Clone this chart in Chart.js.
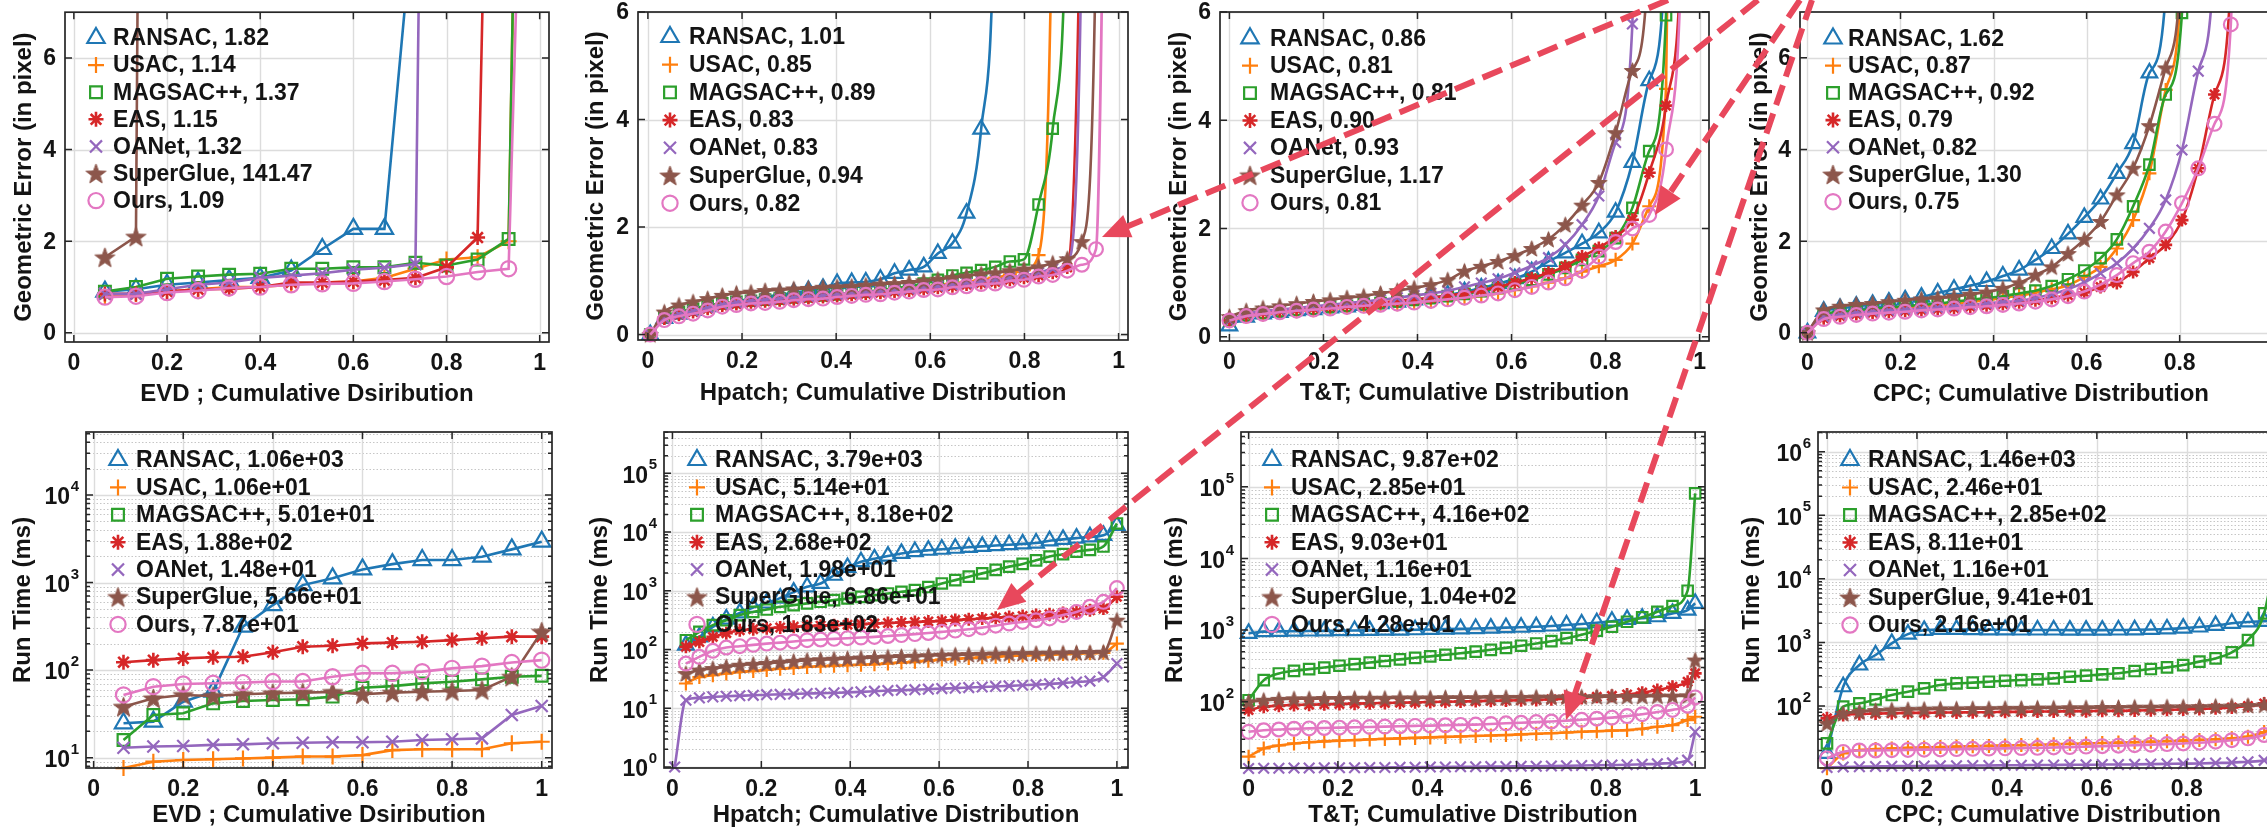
<!DOCTYPE html>
<html>
<head>
<meta charset="utf-8">
<title>Geometric error and run time – cumulative distributions</title>
<script src="https://cdn.jsdelivr.net/npm/chart.js@4.4.1/dist/chart.umd.min.js"></script>
<style>
  html, body { margin:0; padding:0; background:#ffffff; }
  body { width:2267px; height:831px; overflow:hidden; }
  #fig { position:relative; width:2267px; height:831px; overflow:hidden; background:#ffffff; }
  #fig canvas { position:absolute; }
</style>
</head>
<body>
<div id="fig"></div>
<script>
// ======================= DATA =======================
const methods = ['RANSAC', 'USAC', 'MAGSAC++', 'EAS', 'OANet', 'SuperGlue', 'Ours'];
const xTickValues = [0, 0.2, 0.4, 0.6, 0.8, 1];
const xTickLabels = ['0', '0.2', '0.4', '0.6', '0.8', '1'];
const errTickValues = [0, 2, 4, 6];
const errTickLabels = ['0', '2', '4', '6'];

// ---- EVD : geometric error ----
const evdErrX = [0.0667, 0.1333, 0.2, 0.2667, 0.3333, 0.4, 0.4667, 0.5333, 0.6, 0.6667, 0.7333, 0.8, 0.8667, 0.9333, 1.0];
const evdErrRANSAC = [0.9, 0.95, 1.05, 1.1, 1.15, 1.2, 1.36, 1.83, 2.27, 2.27, 9.6, 20, 40, 60, 80];
const evdErrUSAC = [0.8, 0.85, 0.9, 0.95, 1.0, 1.0, 1.05, 1.1, 1.12, 1.2, 1.4, 1.6, 1.65, 2.0, 40];
const evdErrMAGSAC = [0.9, 1.0, 1.18, 1.23, 1.27, 1.29, 1.4, 1.4, 1.43, 1.43, 1.53, 1.47, 1.6, 2.05, 40];
const evdErrEAS = [0.85, 0.85, 0.9, 0.95, 0.96, 1.0, 1.1, 1.1, 1.12, 1.15, 1.2, 1.43, 2.08, 34, 60];
const evdErrOANet = [0.85, 0.85, 0.95, 1.05, 1.1, 1.2, 1.25, 1.3, 1.38, 1.42, 1.5, 56, 80, 90, 100];
const evdErrSuperGlue = [1.65, 2.1, 100, 120, 130, 140, 140, 140, 140, 140, 140, 140, 140, 140, 140];
const evdErrOurs = [0.78, 0.8, 0.88, 0.92, 0.98, 1.0, 1.05, 1.07, 1.08, 1.12, 1.17, 1.23, 1.33, 1.4, 25.2];
const evdErrLegend = ['1.82', '1.14', '1.37', '1.15', '1.32', '141.47', '1.09'];

// ---- Hpatch : geometric error ----
const hpErrX = [0.005, 0.035, 0.066, 0.096, 0.127, 0.158, 0.188, 0.219, 0.249, 0.28, 0.31, 0.341, 0.372, 0.402, 0.433, 0.463, 0.494, 0.524, 0.555, 0.586, 0.616, 0.647, 0.677, 0.708, 0.738, 0.769, 0.799, 0.83, 0.86, 0.891, 0.922, 0.952, 0.983];
const hpErrRANSAC = [0, 0.3, 0.38, 0.45, 0.52, 0.57, 0.62, 0.66, 0.7, 0.74, 0.78, 0.82, 0.86, 0.95, 0.97, 0.98, 1.03, 1.14, 1.2, 1.26, 1.51, 1.7, 2.26, 3.82, 8.9, 40, 60, 80, 90, 100, 100, 100, 100];
const hpErrUSAC = [0, 0.32, 0.4, 0.46, 0.52, 0.57, 0.6, 0.62, 0.64, 0.66, 0.68, 0.7, 0.72, 0.74, 0.76, 0.78, 0.8, 0.83, 0.86, 0.89, 0.92, 0.95, 0.98, 1.02, 1.06, 1.12, 1.2, 1.48, 8.6, 40, 60, 80, 90];
const hpErrMAGSAC = [0, 0.33, 0.42, 0.48, 0.54, 0.58, 0.61, 0.63, 0.65, 0.67, 0.69, 0.71, 0.73, 0.75, 0.78, 0.8, 0.83, 0.86, 0.9, 0.95, 1.02, 1.1, 1.15, 1.2, 1.26, 1.36, 1.4, 2.42, 3.83, 9.0, 40, 60, 80];
const hpErrEAS = [0, 0.3, 0.37, 0.42, 0.48, 0.54, 0.57, 0.6, 0.62, 0.64, 0.66, 0.68, 0.7, 0.72, 0.74, 0.76, 0.78, 0.8, 0.82, 0.85, 0.87, 0.9, 0.93, 0.96, 0.98, 1.02, 1.06, 1.1, 1.15, 1.25, 10, 40, 60];
const hpErrOANet = [0, 0.3, 0.38, 0.44, 0.5, 0.56, 0.6, 0.63, 0.65, 0.67, 0.69, 0.71, 0.73, 0.75, 0.77, 0.79, 0.81, 0.83, 0.85, 0.88, 0.9, 0.93, 0.96, 0.99, 1.02, 1.06, 1.1, 1.15, 1.22, 1.35, 7.6, 40, 60];
const hpErrSuperGlue = [0, 0.42, 0.55, 0.61, 0.67, 0.73, 0.77, 0.79, 0.82, 0.83, 0.85, 0.86, 0.88, 0.89, 0.9, 0.92, 0.94, 0.95, 0.97, 1.0, 1.03, 1.06, 1.09, 1.13, 1.15, 1.19, 1.22, 1.26, 1.33, 1.41, 1.73, 7.3, 40];
const hpErrOurs = [0, 0.27, 0.34, 0.39, 0.45, 0.52, 0.55, 0.58, 0.59, 0.61, 0.64, 0.66, 0.67, 0.7, 0.72, 0.74, 0.75, 0.78, 0.8, 0.83, 0.84, 0.88, 0.9, 0.94, 0.95, 1.0, 1.02, 1.08, 1.11, 1.19, 1.3, 1.59, 18.7];
const hpErrLegend = ['1.01', '0.85', '0.89', '0.83', '0.83', '0.94', '0.82'];

// ---- T&T : geometric error ----
const ttErrX = [0, 0.0357, 0.0714, 0.1071, 0.1429, 0.1786, 0.2143, 0.25, 0.2857, 0.3214, 0.3571, 0.3929, 0.4286, 0.4643, 0.5, 0.5357, 0.5714, 0.6071, 0.6429, 0.6786, 0.7143, 0.75, 0.7857, 0.8214, 0.8571, 0.8929, 0.9286, 0.9643, 1.0];
const ttErrRANSAC = [0.2, 0.36, 0.42, 0.45, 0.48, 0.5, 0.53, 0.55, 0.58, 0.61, 0.64, 0.68, 0.72, 0.77, 0.83, 0.9, 0.98, 1.07, 1.2, 1.39, 1.55, 1.72, 1.92, 2.3, 3.22, 4.73, 7.4, 40, 60];
const ttErrUSAC = [0.3, 0.37, 0.41, 0.44, 0.47, 0.49, 0.51, 0.54, 0.56, 0.58, 0.6, 0.62, 0.65, 0.68, 0.71, 0.75, 0.8, 0.86, 0.93, 1.0, 1.08, 1.2, 1.3, 1.42, 1.72, 2.41, 4.58, 30, 60];
const ttErrMAGSAC = [0.3, 0.4, 0.44, 0.47, 0.5, 0.52, 0.55, 0.57, 0.6, 0.62, 0.65, 0.68, 0.71, 0.75, 0.79, 0.84, 0.9, 0.97, 1.05, 1.15, 1.27, 1.42, 1.58, 1.82, 2.38, 3.43, 5.94, 40, 60];
const ttErrEAS = [0.3, 0.4, 0.45, 0.48, 0.51, 0.53, 0.56, 0.58, 0.61, 0.63, 0.66, 0.69, 0.72, 0.76, 0.8, 0.86, 0.92, 1.0, 1.08, 1.18, 1.3, 1.48, 1.64, 1.85, 2.16, 3.03, 4.27, 8.1, 30];
const ttErrOANet = [0.3, 0.42, 0.47, 0.5, 0.53, 0.56, 0.59, 0.62, 0.65, 0.68, 0.72, 0.76, 0.8, 0.85, 0.92, 0.99, 1.07, 1.18, 1.31, 1.46, 1.7, 2.07, 2.6, 3.59, 5.78, 30, 60, 80, 90];
const ttErrSuperGlue = [0.37, 0.48, 0.53, 0.57, 0.61, 0.65, 0.68, 0.72, 0.75, 0.8, 0.85, 0.9, 0.96, 1.05, 1.21, 1.3, 1.39, 1.5, 1.63, 1.8, 2.07, 2.43, 2.85, 3.77, 4.92, 7.3, 40, 60, 80];
const ttErrOurs = [0.3, 0.38, 0.42, 0.45, 0.48, 0.5, 0.52, 0.55, 0.57, 0.59, 0.61, 0.63, 0.66, 0.69, 0.72, 0.76, 0.8, 0.86, 0.92, 1.0, 1.08, 1.22, 1.48, 1.75, 2.0, 2.25, 3.46, 8.0, 30];
const ttErrLegend = ['0.86', '0.81', '0.81', '0.90', '0.93', '1.17', '0.81'];

// ---- CPC : geometric error ----
const cpcErrX = [0, 0.035, 0.07, 0.105, 0.14, 0.175, 0.21, 0.245, 0.28, 0.315, 0.35, 0.385, 0.42, 0.455, 0.49, 0.525, 0.56, 0.595, 0.63, 0.665, 0.7, 0.735, 0.77, 0.805, 0.84, 0.875, 0.91, 0.945, 0.98];
const cpcErrRANSAC = [0, 0.47, 0.53, 0.58, 0.62, 0.67, 0.72, 0.78, 0.87, 0.95, 1.03, 1.12, 1.24, 1.37, 1.59, 1.84, 2.16, 2.52, 2.92, 3.48, 4.13, 5.67, 7.4, 30, 60, 80, 90, 100, 100];
const cpcErrUSAC = [0, 0.36, 0.41, 0.45, 0.48, 0.51, 0.54, 0.57, 0.6, 0.63, 0.67, 0.71, 0.76, 0.81, 0.88, 0.95, 1.04, 1.22, 1.44, 1.84, 2.46, 3.48, 5.3, 8, 30, 60, 80, 90, 100];
const cpcErrMAGSAC = [0, 0.4, 0.45, 0.48, 0.52, 0.55, 0.58, 0.61, 0.64, 0.68, 0.72, 0.76, 0.8, 0.86, 0.92, 1.02, 1.17, 1.36, 1.63, 2.04, 2.76, 3.67, 5.2, 6.98, 30, 60, 80, 90, 100];
const cpcErrEAS = [0, 0.32, 0.37, 0.41, 0.44, 0.46, 0.48, 0.5, 0.52, 0.54, 0.57, 0.6, 0.63, 0.67, 0.71, 0.76, 0.82, 0.88, 1.0, 1.09, 1.33, 1.63, 1.92, 2.46, 3.59, 5.2, 7.7, 30, 60];
const cpcErrOANet = [0, 0.35, 0.4, 0.44, 0.47, 0.49, 0.51, 0.53, 0.55, 0.58, 0.61, 0.64, 0.67, 0.7, 0.76, 0.84, 0.95, 1.1, 1.3, 1.52, 1.84, 2.28, 2.9, 3.99, 5.71, 8.4, 30, 60, 80];
const cpcErrSuperGlue = [0, 0.5, 0.58, 0.62, 0.64, 0.68, 0.71, 0.74, 0.76, 0.79, 0.84, 0.89, 0.97, 1.09, 1.26, 1.44, 1.73, 2.04, 2.43, 3.01, 3.59, 4.52, 5.78, 8.4, 30, 60, 80, 90, 100];
const cpcErrOurs = [0, 0.3, 0.35, 0.39, 0.42, 0.44, 0.46, 0.49, 0.51, 0.53, 0.56, 0.58, 0.61, 0.64, 0.68, 0.73, 0.8, 0.9, 1.05, 1.26, 1.52, 1.77, 2.21, 2.83, 3.59, 4.56, 6.73, 30, 60];
const cpcErrLegend = ['1.62', '0.87', '0.92', '0.79', '0.82', '1.30', '0.75'];

// ---- EVD : run time (ms) ----
const evdTimeX = [0.0667, 0.1333, 0.2, 0.2667, 0.3333, 0.4, 0.4667, 0.5333, 0.6, 0.6667, 0.7333, 0.8, 0.8667, 0.9333, 1.0];
const evdTimeRANSAC = [24.7, 25.8, 43.6, 56.8, 313, 553, 935, 1117, 1413, 1623, 1806, 1806, 1973, 2393, 2930];
const evdTimeUSAC = [7.6, 9.0, 9.4, 9.6, 9.8, 10, 10.3, 10.3, 10.7, 12.2, 12.5, 12.5, 12.5, 14.6, 15.2];
const evdTimeMAGSAC = [15.9, 30.7, 32.1, 41.7, 44.3, 45.5, 46.4, 49.8, 63, 65.7, 70.5, 73.7, 78.4, 84, 86];
const evdTimeEAS = [123, 130, 136, 140, 142, 160, 185, 190, 202, 206, 211, 220, 231, 241, 241];
const evdTimeOANet = [13, 13.4, 13.6, 14, 14.2, 14.6, 14.8, 15, 15, 15.2, 15.9, 16.2, 16.6, 30.7, 38.9];
const evdTimeSuperGlue = [38.2, 47.6, 52, 50.7, 53, 54.4, 55.3, 56.3, 53, 55.3, 56.7, 57.7, 59.3, 84, 275];
const evdTimeOurs = [52, 64.7, 69.4, 70.7, 72, 74, 74, 84, 91.9, 91.9, 96, 104.7, 111, 122, 130];
const evdTimeLegend = ['1.06e+03', '1.06e+01', '5.01e+01', '1.88e+02', '1.48e+01', '5.66e+01', '7.87e+01'];

// ---- Hpatch : run time (ms) ----
const hpTimeX = [0.005, 0.0303, 0.0606, 0.0909, 0.1212, 0.1515, 0.1818, 0.2121, 0.2424, 0.2727, 0.303, 0.3333, 0.3636, 0.3939, 0.4242, 0.4545, 0.4848, 0.5152, 0.5455, 0.5758, 0.6061, 0.6364, 0.6667, 0.697, 0.7273, 0.7576, 0.7879, 0.8182, 0.8485, 0.8788, 0.9091, 0.9394, 0.9697, 1.0];
const hpTimeRANSAC = [null, 119, 164, 243, 330, 420, 520, 620, 750, 950, 1170, 1333, 1840, 2500, 3130, 3500, 3900, 4330, 4660, 4900, 5100, 5300, 5500, 5700, 5900, 6100, 6300, 6500, 7100, 7500, 7900, 8300, 8800, 13000];
const hpTimeUSAC = [null, 26.4, 34, 36.5, 39, 41.5, 43, 45, 47, 48.5, 50.6, 52, 53, 54, 55, 56, 58, 60, 62, 64.5, 67.5, 69.5, 71.5, 73.5, 75.5, 77.7, 79, 80.5, 82, 83.5, 85, 86.5, 88, 126];
const hpTimeMAGSAC = [null, 144, 200, 260, 315, 386, 437, 480, 533, 570, 610, 650, 693, 740, 790, 842, 900, 960, 1024, 1160, 1333, 1520, 1738, 1980, 2264, 2580, 2866, 3300, 3827, 4200, 4660, 4980, 5670, 14000];
const hpTimeEAS = [null, 111, 134, 164, 190, 213, 222, 230, 237, 244, 250, 255, 260, 265, 271, 277, 283, 289, 295, 301, 307, 317, 327, 337, 348, 359, 372, 386, 400, 418, 437, 465, 497, 790];
const hpTimeOANet = [1, 13.7, 15, 15.6, 16, 16.3, 16.6, 17, 17.2, 17.5, 17.8, 18, 18.3, 18.6, 19, 19.5, 20, 20.3, 20.7, 21.1, 21.6, 22, 22.5, 23, 23.5, 24, 24.6, 25.2, 26, 26.8, 28, 29, 34, 57.7];
const hpTimeSuperGlue = [null, 39, 44.6, 47.5, 51, 54, 56, 58, 60.5, 63, 65.8, 67, 68.5, 70, 71.5, 73, 74.5, 76, 77, 78.5, 80, 81, 82, 83, 84, 85, 85.5, 86, 86.5, 87.3, 88, 89, 90, 316];
const hpTimeOurs = [null, 57.7, 75, 95, 108, 114, 120, 126, 131, 137, 144, 148, 152, 156, 160, 164, 170, 176, 183, 191, 200, 210, 222, 236, 255, 277, 295, 315, 338, 385, 437, 533, 648, 1112];
const hpTimeLegend = ['3.79e+03', '5.14e+01', '8.18e+02', '2.68e+02', '1.98e+01', '6.86e+01', '1.83e+02'];

// ---- T&T : run time (ms) ----
const ttTimeX = [0, 0.0339, 0.0678, 0.1017, 0.1356, 0.1695, 0.2034, 0.2373, 0.2712, 0.3051, 0.339, 0.3729, 0.4068, 0.4407, 0.4746, 0.5085, 0.5424, 0.5763, 0.6102, 0.6441, 0.678, 0.7119, 0.7458, 0.7797, 0.8136, 0.8475, 0.8814, 0.9153, 0.9492, 0.9831, 1.0];
const ttTimeRANSAC = [900, 950, 960, 965, 970, 975, 980, 985, 990, 995, 1000, 1010, 1020, 1030, 1040, 1050, 1065, 1080, 1095, 1115, 1140, 1175, 1215, 1265, 1330, 1410, 1460, 1535, 1710, 1900, 2360];
const ttTimeUSAC = [17.1, 22.3, 24.5, 26.2, 27.2, 28, 28.6, 29.2, 29.8, 30.3, 30.8, 31.3, 31.8, 32.3, 32.8, 33.3, 33.8, 34.3, 35, 35.7, 36.4, 37.2, 38.1, 38.8, 39.5, 40.2, 42, 44.8, 47.3, 55.5, 61.7];
const ttTimeMAGSAC = [105, 200, 248, 270, 285, 300, 318, 335, 352, 370, 390, 410, 430, 452, 475, 500, 530, 565, 605, 650, 700, 770, 860, 980, 1112, 1306, 1505, 1800, 2160, 3540, 80900];
const ttTimeEAS = [76.5, 85, 88, 90, 91, 92, 93, 94, 95, 96, 97, 98, 99, 100, 101, 102, 103, 104, 105, 106, 108, 110, 113, 117, 121, 126, 134, 146, 162, 190, 249];
const ttTimeOANet = [11.7, 11.8, 11.8, 11.9, 11.9, 12, 12, 12, 12.1, 12.1, 12.2, 12.2, 12.3, 12.3, 12.4, 12.4, 12.5, 12.5, 12.6, 12.6, 12.7, 12.8, 12.9, 13, 13.1, 13.2, 13.4, 13.6, 14, 15.3, 38];
const ttTimeSuperGlue = [100, 105, 108, 110, 110, 111, 111, 112, 112, 112, 113, 113, 113, 114, 114, 114, 115, 115, 115, 116, 116, 117, 117, 118, 118, 119, 119, 120, 120, 121, 382];
const ttTimeOurs = [38, 40, 41, 42, 42.5, 43, 43.5, 44, 44.5, 45, 45.5, 46, 46.5, 47, 47.5, 48, 49, 50, 51, 52, 53, 54.5, 56, 58, 60, 63, 67, 72, 77, 88, 115];
const ttTimeLegend = ['9.87e+02', '2.85e+01', '4.16e+02', '9.03e+01', '1.16e+01', '1.04e+02', '4.28e+01'];

// ---- CPC : run time (ms) ----
const cpcTimeX = [0, 0.036, 0.072, 0.108, 0.144, 0.18, 0.216, 0.252, 0.288, 0.324, 0.36, 0.396, 0.432, 0.468, 0.504, 0.54, 0.576, 0.612, 0.648, 0.684, 0.72, 0.756, 0.792, 0.828, 0.864, 0.9, 0.936, 0.972, 1.0];
const cpcTimeRANSAC = [18, 201, 442, 634, 968, 1350, 1550, 1600, 1600, 1590, 1580, 1580, 1570, 1570, 1570, 1560, 1560, 1560, 1570, 1580, 1600, 1630, 1680, 1750, 1850, 2000, 2100, 2150, 2200];
const cpcTimeUSAC = [10.5, 18, 20.3, 21, 21.5, 22, 22.3, 22.6, 23, 23.3, 23.6, 24, 24.3, 24.6, 25, 25.4, 25.8, 26.2, 26.6, 27, 27.5, 28, 28.6, 29.3, 30, 31, 33, 39, 50];
const cpcTimeMAGSAC = [25.9, 97.6, 110, 127, 149, 168, 190, 214, 227, 233, 241, 250, 256, 263, 272, 289, 300, 315, 327, 355, 382, 405, 441, 499, 561, 700, 1090, 2860, 30000];
const cpcTimeEAS = [64, 72, 75, 76, 77, 78, 78, 79, 79, 80, 80, 81, 81, 82, 82, 83, 83, 84, 84, 85, 86, 87, 88, 90, 92, 95, 100, 110, 150];
const cpcTimeOANet = [10.8, 11, 11.1, 11.2, 11.3, 11.4, 11.4, 11.5, 11.5, 11.6, 11.6, 11.7, 11.7, 11.8, 11.8, 11.9, 11.9, 12, 12, 12.1, 12.2, 12.3, 12.4, 12.5, 12.7, 12.9, 13.3, 14, 20];
const cpcTimeSuperGlue = [53, 76, 81, 85, 87, 88, 89, 90, 90, 91, 91, 92, 92, 93, 93, 94, 94, 95, 95, 96, 96, 97, 97, 98, 99, 100, 102, 104, 130];
const cpcTimeOurs = [15, 19, 20, 20, 20.2, 20.4, 20.6, 20.8, 21, 21.2, 21.4, 21.6, 21.8, 22, 22.3, 22.6, 23, 23.4, 23.8, 24.2, 24.7, 25.2, 25.8, 26.5, 27.5, 29, 31, 35, 45];
const cpcTimeLegend = ['1.46e+03', '2.46e+01', '2.85e+02', '8.11e+01', '1.16e+01', '9.41e+01', '2.16e+01'];

// ======================= STYLE / LAYOUT =======================
const COLORS = ['#1f77b4', '#ff7f0e', '#2ca02c', '#d62728', '#9467bd', '#8c564b', '#e377c2'];
const STYLES = ['triangle', 'cross', 'rect', 'star', 'crossRot', 'pentagram', 'circle'];
const SIZES = {
  big:   { triangle: 10, cross: 8, rect: 8.3, star: 7.5, crossRot: 8.5, circle: 7.6, pentagram: 23 },
  small: { triangle: 9, cross: 7, rect: 7.4, star: 6.5, crossRot: 7.5, circle: 6.9, pentagram: 19 }
};
const FONT_FAMILY = '"Liberation Sans", Arial, Helvetica, sans-serif';
const TICK_FONT = 'bold 23px ' + FONT_FAMILY;
const TITLE_FONT = 'bold 24px ' + FONT_FAMILY;
const LEGEND_FONT = 'bold 23px ' + FONT_FAMILY;
const EXP_FONT = 'bold 15px ' + FONT_FAMILY;
const TEXT_COLOR = '#141414';
const AXIS_COLOR = '#262626';
const GRID_COLOR = '#dcdcdc';
const MINOR_GRID_COLOR = '#c6c6c6';
const ERR_TITLE = 'Geometric Error (in pixel)';
const TIME_TITLE = 'Run Time (ms)';

const pentagramCache = {};
function pentagram(size, color) {
  const key = size + color;
  if (pentagramCache[key]) return pentagramCache[key];
  const c = document.createElement('canvas');
  c.width = size; c.height = size;
  const g = c.getContext('2d');
  const R = size / 2 - 1, r = R * 0.41;
  const cx = size / 2, cy = size / 2 + R * 0.09;
  g.beginPath();
  for (let i = 0; i < 10; i++) {
    const a = -Math.PI / 2 + i * Math.PI / 5;
    const rr = (i % 2 === 0) ? R : r;
    const px = cx + rr * Math.cos(a), py = cy + rr * Math.sin(a);
    if (i === 0) g.moveTo(px, py); else g.lineTo(px, py);
  }
  g.closePath();
  g.fillStyle = color; g.fill();
  g.lineWidth = 1; g.strokeStyle = color; g.stroke();
  pentagramCache[key] = c;
  return c;
}
function markerFor(i, sizeKey) {
  const st = STYLES[i];
  const sz = SIZES[sizeKey][st];
  if (st === 'pentagram') return { pointStyle: pentagram(sz, COLORS[i]), radius: sz / 2, borderWidth: 0 };
  return { pointStyle: st, radius: sz, borderWidth: st === 'star' ? 2.6 : 2.2 };
}

const panels = [
  { x: evdErrX, series: [evdErrRANSAC, evdErrUSAC, evdErrMAGSAC, evdErrEAS, evdErrOANet, evdErrSuperGlue, evdErrOurs], legendVals: evdErrLegend,
    cx: 0, cy: 0, cw: 575, ch: 410, L: 65, R: 549, T: 10, B: 342, xMin: -0.019, xMax: 1.02, yMin: -0.2, yMax: 7, log: false,
    xTitle: 'EVD ; Cumulative Dsiribution', yTitle: ERR_TITLE, yTitleX: 24, xTitleDy: 52, legend: [96, 113, 38, 27.1], size: 'big', smooth: false },
  { x: hpErrX, series: [hpErrRANSAC, hpErrUSAC, hpErrMAGSAC, hpErrEAS, hpErrOANet, hpErrSuperGlue, hpErrOurs], legendVals: hpErrLegend,
    cx: 575, cy: 0, cw: 575, ch: 410, L: 638, R: 1128, T: 12, B: 340, xMin: -0.021, xMax: 1.02, yMin: -0.1, yMax: 6, log: false,
    xTitle: 'Hpatch; Cumulative Distribution', yTitle: ERR_TITLE, yTitleX: 596, xTitleDy: 53, legend: [670, 689, 37, 27.7], size: 'small', smooth: true },
  { x: ttErrX, series: [ttErrRANSAC, ttErrUSAC, ttErrMAGSAC, ttErrEAS, ttErrOANet, ttErrSuperGlue, ttErrOurs], legendVals: ttErrLegend,
    cx: 1150, cy: 0, cw: 575, ch: 410, L: 1220, R: 1709, T: 12, B: 341, xMin: -0.02, xMax: 1.02, yMin: -0.08, yMax: 6, log: false,
    xTitle: 'T&T; Cumulative Distribution', yTitle: ERR_TITLE, yTitleX: 1179, xTitleDy: 52, legend: [1250, 1270, 38.3, 27.4], size: 'small', smooth: true },
  { x: cpcErrX, series: [cpcErrRANSAC, cpcErrUSAC, cpcErrMAGSAC, cpcErrEAS, cpcErrOANet, cpcErrSuperGlue, cpcErrOurs], legendVals: cpcErrLegend,
    cx: 1725, cy: 0, cw: 580, ch: 410, L: 1800, R: 2282, T: 12, B: 342, xMin: -0.016, xMax: 1.02, yMin: -0.2, yMax: 7, log: false,
    xTitle: 'CPC; Cumulative Distribution', yTitle: ERR_TITLE, yTitleX: 1760, xTitleDy: 52, legend: [1833, 1848, 38.5, 27.2], size: 'small', smooth: true },
  { x: evdTimeX, series: [evdTimeRANSAC, evdTimeUSAC, evdTimeMAGSAC, evdTimeEAS, evdTimeOANet, evdTimeSuperGlue, evdTimeOurs], legendVals: evdTimeLegend,
    cx: 0, cy: 410, cw: 575, ch: 421, L: 86, R: 552, T: 432, B: 768, xMin: -0.017, xMax: 1.023, yMin: 7.62, yMax: 52400, log: true, decades: [1, 4],
    xTitle: 'EVD ; Cumulative Dsiribution', yTitle: TIME_TITLE, yTitleX: 23, xTitleDy: 47, legend: [118, 136, 460, 27.4], size: 'big', smooth: false },
  { x: hpTimeX, series: [hpTimeRANSAC, hpTimeUSAC, hpTimeMAGSAC, hpTimeEAS, hpTimeOANet, hpTimeSuperGlue, hpTimeOurs], legendVals: hpTimeLegend,
    cx: 575, cy: 410, cw: 575, ch: 421, L: 664, R: 1128, T: 432, B: 768, xMin: -0.019, xMax: 1.025, yMin: 0.96, yMax: 506000, log: true, decades: [0, 5],
    xTitle: 'Hpatch; Cumulative Distribution', yTitle: TIME_TITLE, yTitleX: 600, xTitleDy: 47, legend: [697, 715, 460, 27.4], size: 'small', smooth: true },
  { x: ttTimeX, series: [ttTimeRANSAC, ttTimeUSAC, ttTimeMAGSAC, ttTimeEAS, ttTimeOANet, ttTimeSuperGlue, ttTimeOurs], legendVals: ttTimeLegend,
    cx: 1150, cy: 410, cw: 575, ch: 421, L: 1241, R: 1705, T: 432, B: 768, xMin: -0.017, xMax: 1.022, yMin: 11.9, yMax: 580000, log: true, decades: [2, 5],
    xTitle: 'T&T; Cumulative Distribution', yTitle: TIME_TITLE, yTitleX: 1175, xTitleDy: 47, legend: [1272, 1291, 460, 27.4], size: 'small', smooth: true },
  { x: cpcTimeX, series: [cpcTimeRANSAC, cpcTimeUSAC, cpcTimeMAGSAC, cpcTimeEAS, cpcTimeOANet, cpcTimeSuperGlue, cpcTimeOurs], legendVals: cpcTimeLegend,
    cx: 1725, cy: 410, cw: 580, ch: 421, L: 1818, R: 2288, T: 432, B: 768, xMin: -0.02, xMax: 1.025, yMin: 10.6, yMax: 2040000, log: true, decades: [2, 6],
    xTitle: 'CPC; Cumulative Distribution', yTitle: TIME_TITLE, yTitleX: 1752, xTitleDy: 47, legend: [1850, 1868, 460, 27.5], size: 'small', smooth: true }
];

// ======================= DRAWING =======================
function drawMarker(ctx, i, sizeKey, x, y) {
  const m = markerFor(i, sizeKey);
  ctx.save();
  ctx.strokeStyle = COLORS[i];
  ctx.fillStyle = 'rgba(255,255,255,0)';
  ctx.lineWidth = m.borderWidth;
  ctx.setLineDash([]);
  if (Chart.helpers && Chart.helpers.drawPoint) {
    Chart.helpers.drawPoint(ctx, { pointStyle: m.pointStyle, rotation: 0, radius: m.radius, borderWidth: m.borderWidth }, x, y);
  }
  ctx.restore();
}
function decadeValues(p) {
  const out = [];
  for (let e = p.decades[0]; e <= p.decades[1]; e++) out.push(Math.pow(10, e));
  return out;
}
function minorValues(p) {
  const out = [];
  for (let e = p.decades[0] - 1; e <= p.decades[1] + 1; e++) {
    for (let m = 2; m <= 9; m++) {
      const v = m * Math.pow(10, e);
      if (v > p.yMin && v < p.yMax) out.push(v);
    }
  }
  return out;
}

function axesPlugin(p) {
  return {
    id: 'matlabAxes',
    beforeDatasetsDraw(chart) {
      const { ctx, chartArea: a } = chart;
      const xs = chart.scales.x, ys = chart.scales.y;
      ctx.save();
      ctx.beginPath();
      ctx.rect(a.left, a.top, a.right - a.left, a.bottom - a.top);
      ctx.clip();
      if (p.log) {
        ctx.strokeStyle = MINOR_GRID_COLOR; ctx.lineWidth = 1; ctx.setLineDash([1.5, 2]);
        ctx.beginPath();
        for (const v of minorValues(p)) {
          const py = Math.round(ys.getPixelForValue(v)) + 0.5;
          ctx.moveTo(a.left, py); ctx.lineTo(a.right, py);
        }
        ctx.stroke();
        ctx.setLineDash([]);
      }
      ctx.strokeStyle = GRID_COLOR; ctx.lineWidth = 1.4;
      ctx.beginPath();
      for (const v of xTickValues) {
        const px = Math.round(xs.getPixelForValue(v)) + 0.5;
        ctx.moveTo(px, a.top); ctx.lineTo(px, a.bottom);
      }
      const yMajor = p.log ? decadeValues(p) : errTickValues;
      for (const v of yMajor) {
        const py = Math.round(ys.getPixelForValue(v)) + 0.5;
        ctx.moveTo(a.left, py); ctx.lineTo(a.right, py);
      }
      ctx.stroke();
      ctx.restore();
    },
    afterDraw(chart) {
      const { ctx, chartArea: a } = chart;
      const xs = chart.scales.x, ys = chart.scales.y;
      const ox = p.cx, oy = p.cy;
      ctx.save();
      // axes box
      ctx.strokeStyle = AXIS_COLOR; ctx.lineWidth = 1.7; ctx.setLineDash([]);
      ctx.strokeRect(a.left, a.top, a.right - a.left, a.bottom - a.top);
      // inward ticks on all four sides
      ctx.lineWidth = 1.5;
      ctx.beginPath();
      for (const v of xTickValues) {
        const px = xs.getPixelForValue(v);
        if (px > a.right + 1) continue;
        ctx.moveTo(px, a.bottom); ctx.lineTo(px, a.bottom - 7);
        ctx.moveTo(px, a.top); ctx.lineTo(px, a.top + 7);
      }
      const yMajor = p.log ? decadeValues(p) : errTickValues;
      for (const v of yMajor) {
        const py = ys.getPixelForValue(v);
        ctx.moveTo(a.left, py); ctx.lineTo(a.left + 7, py);
        ctx.moveTo(a.right, py); ctx.lineTo(a.right - 7, py);
      }
      if (p.log) {
        for (const v of minorValues(p)) {
          const py = ys.getPixelForValue(v);
          ctx.moveTo(a.left, py); ctx.lineTo(a.left + 4, py);
          ctx.moveTo(a.right, py); ctx.lineTo(a.right - 4, py);
        }
      }
      ctx.stroke();

      ctx.fillStyle = TEXT_COLOR;
      // x tick labels
      ctx.font = TICK_FONT;
      ctx.textAlign = 'center'; ctx.textBaseline = 'middle';
      xTickValues.forEach((v, k) => {
        ctx.fillText(xTickLabels[k], xs.getPixelForValue(v), a.bottom + 22);
      });
      // y tick labels
      if (!p.log) {
        ctx.textAlign = 'right';
        errTickValues.forEach((v, k) => {
          if (v > p.yMax) return;
          ctx.fillText(errTickLabels[k], a.left - 9, ys.getPixelForValue(v) + 1);
        });
      } else {
        for (let e = p.decades[0]; e <= p.decades[1]; e++) {
          const py = ys.getPixelForValue(Math.pow(10, e));
          const xEnd = a.left - 7;
          ctx.font = EXP_FONT;
          const ew = ctx.measureText(String(e)).width;
          ctx.textAlign = 'left';
          ctx.fillText(String(e), xEnd - ew, py - 8);
          ctx.font = TICK_FONT;
          ctx.textAlign = 'right';
          ctx.fillText('10', xEnd - ew - 0.5, py + 3);
        }
      }
      // axis titles
      ctx.font = TITLE_FONT;
      ctx.textAlign = 'center'; ctx.textBaseline = 'middle';
      ctx.fillText(p.xTitle, (a.left + a.right) / 2, p.B + p.xTitleDy - oy);
      ctx.save();
      ctx.translate(p.yTitleX - ox, (a.top + a.bottom) / 2);
      ctx.rotate(-Math.PI / 2);
      ctx.fillText(p.yTitle, 0, 0);
      ctx.restore();
      // legend (inside the axes, no box)
      const [mx, tx, y0, dy] = p.legend;
      for (let i = 0; i < methods.length; i++) {
        const yy = y0 + i * dy - oy;
        drawMarker(ctx, i, 'big', mx - ox, yy);
        ctx.fillStyle = TEXT_COLOR;
        ctx.font = LEGEND_FONT;
        ctx.textAlign = 'left'; ctx.textBaseline = 'middle';
        ctx.fillText(methods[i] + ', ' + p.legendVals[i], tx - ox, yy + 1);
      }
      ctx.restore();
    }
  };
}

const fig = document.getElementById('fig');
panels.forEach((p) => {
  const cv = document.createElement('canvas');
  cv.width = p.cw; cv.height = p.ch;
  cv.style.left = p.cx + 'px'; cv.style.top = p.cy + 'px';
  cv.style.width = p.cw + 'px'; cv.style.height = p.ch + 'px';
  fig.appendChild(cv);
  const clip = p.log ? { left: 10, right: 10, top: 10, bottom: 10 } : { left: 10, right: 10, top: 0, bottom: 10 };
  const datasets = p.series.map((ys, i) => {
    const m = markerFor(i, p.size);
    return {
      label: methods[i],
      data: p.x.map((xv, k) => ({ x: xv, y: ys[k] })),
      borderColor: COLORS[i],
      backgroundColor: 'rgba(255,255,255,0)',
      borderWidth: 2.6,
      pointStyle: m.pointStyle,
      pointRadius: m.radius,
      pointBorderWidth: m.borderWidth,
      pointBorderColor: COLORS[i],
      pointBackgroundColor: 'rgba(255,255,255,0)',
      pointHoverRadius: m.radius,
      tension: 0,
      cubicInterpolationMode: p.smooth ? 'monotone' : 'default',
      spanGaps: false,
      clip: clip,
      order: methods.length - 1 - i
    };
  });
  new Chart(cv, {
    type: 'line',
    data: { datasets },
    options: {
      responsive: false,
      animation: false,
      devicePixelRatio: 1,
      events: [],
      layout: { padding: { left: p.L - p.cx, top: p.T - p.cy, right: p.cx + p.cw - p.R, bottom: p.cy + p.ch - p.B } },
      plugins: { legend: { display: false }, tooltip: { enabled: false } },
      scales: {
        x: { type: 'linear', min: p.xMin, max: p.xMax, display: false },
        y: { type: p.log ? 'logarithmic' : 'linear', min: p.yMin, max: p.yMax, display: false }
      }
    },
    plugins: [axesPlugin(p)]
  });
});

// ======================= ANNOTATION ARROWS (red dashed call-outs) =======================
const arrowPaths = [
  [1668, 0, 1102, 237],
  [1758, 0, 997, 610],
  [1800, 0, 1655, 215],
  [1812, 0, 1566, 720]
];
(function drawArrows() {
  const cv = document.createElement('canvas');
  cv.width = 2267; cv.height = 831;
  cv.style.left = '0px'; cv.style.top = '0px'; cv.style.zIndex = '10';
  fig.appendChild(cv);
  const g = cv.getContext('2d');
  const col = '#e8485c';
  arrowPaths.forEach(([x0, y0, x1, y1]) => {
    const dx = x1 - x0, dy = y1 - y0, len = Math.hypot(dx, dy);
    const ux = dx / len, uy = dy / len;
    const head = 28, half = 12;
    const sx = x1 - ux * (head - 2), sy = y1 - uy * (head - 2);
    g.save();
    g.strokeStyle = col; g.lineWidth = 6; g.lineCap = 'butt';
    g.setLineDash([21, 9]);
    g.beginPath(); g.moveTo(x0, y0); g.lineTo(sx, sy); g.stroke();
    g.setLineDash([]);
    g.fillStyle = col;
    const bx = x1 - ux * head, by = y1 - uy * head;
    g.beginPath();
    g.moveTo(x1, y1);
    g.lineTo(bx - uy * half, by + ux * half);
    g.lineTo(bx + uy * half, by - ux * half);
    g.closePath(); g.fill();
    g.restore();
  });
})();
</script>
</body>
</html>
